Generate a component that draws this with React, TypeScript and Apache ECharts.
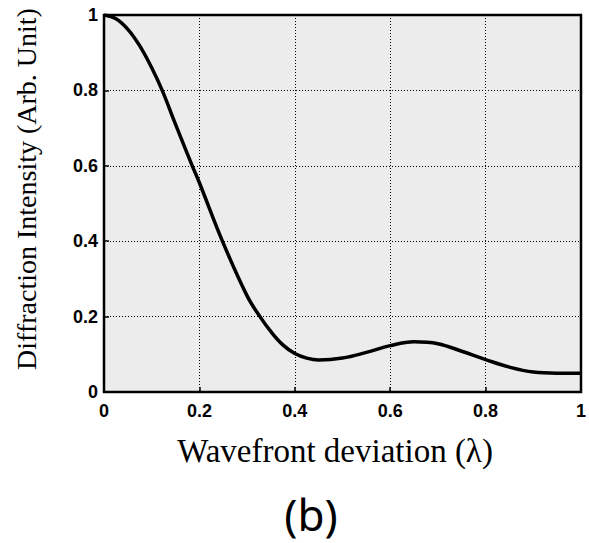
import React, { useEffect, useRef } from "react";
import * as echarts from "echarts";

const xValues = [0, 0.025, 0.05, 0.075, 0.1, 0.122, 0.15, 0.185, 0.2, 0.25, 0.3, 0.327, 0.35, 0.375, 0.4, 0.425, 0.45, 0.5, 0.55, 0.6, 0.65, 0.7, 0.75, 0.8, 0.85, 0.9, 0.95, 1.0];
const intensity = [1.0, 0.99, 0.962, 0.918, 0.86, 0.8, 0.71, 0.6, 0.555, 0.395, 0.255, 0.2, 0.16, 0.125, 0.102, 0.09, 0.085, 0.09, 0.105, 0.123, 0.133, 0.128, 0.108, 0.086, 0.066, 0.053, 0.05, 0.05];
const xTicks = [0, 0.2, 0.4, 0.6, 0.8, 1];
const yTicks = [0, 0.2, 0.4, 0.6, 0.8, 1];
const xTitle = "Wavefront deviation (\u03bb)";
const yTitle = "Diffraction Intensity (Arb. Unit)";
const panelLabel = "(b)";

const fmt = (v: number) => (v === 0 ? "0" : v === 1 ? "1" : String(Math.round(v * 10) / 10));

export default function App() {
  const ref = useRef<HTMLDivElement>(null);
  useEffect(() => {
    if (!ref.current) return;
    const chart = echarts.init(ref.current, null, { renderer: "svg" });
    const data = xValues.map((x, i) => [x, intensity[i]]);
    chart.setOption({
      animation: false,
      backgroundColor: "#ffffff",
      grid: {
        left: 104,
        top: 15,
        right: 4,
        bottom: 151,
        show: true,
        backgroundColor: "#ececec",
        borderColor: "#000",
        borderWidth: 2.5,
      },
      xAxis: {
        type: "value",
        min: 0,
        max: 1,
        interval: 0.2,
        axisLine: { show: false },
        axisTick: { show: true, inside: true, length: 5, lineStyle: { color: "#000", width: 1.5 } },
        splitLine: { show: true, lineStyle: { color: "#000", type: [1, 2], width: 1 } },
        axisLabel: {
          formatter: (v: number) => (xTicks.includes(Math.round(v * 10) / 10) ? fmt(v) : ""),
          color: "#000",
          fontFamily: "Liberation Sans, Arial, sans-serif",
          fontWeight: "bold",
          fontSize: 18,
          margin: 10,
        },
      },
      yAxis: {
        type: "value",
        min: 0,
        max: 1,
        interval: 0.2,
        axisLine: { show: false },
        axisTick: { show: true, inside: true, length: 5, lineStyle: { color: "#000", width: 1.5 } },
        splitLine: { show: true, lineStyle: { color: "#000", type: [1, 2], width: 1 } },
        axisLabel: {
          formatter: (v: number) => (yTicks.includes(Math.round(v * 10) / 10) ? fmt(v) : ""),
          color: "#000",
          fontFamily: "Liberation Sans, Arial, sans-serif",
          fontWeight: "bold",
          fontSize: 18,
          margin: 6,
        },
      },
      series: [
        {
          type: "line",
          data,
          smooth: 0.4,
          showSymbol: false,
          lineStyle: { color: "#000", width: 3.5 },
        },
      ],
      graphic: [
        {
          type: "text",
          x: 26,
          y: 189,
          rotation: Math.PI / 2,
          style: {
            text: yTitle,
            fill: "#000",
            font: "28px 'Liberation Serif', 'Times New Roman', serif",
            align: "center",
            verticalAlign: "middle",
          },
        },
        {
          type: "text",
          x: 335,
          y: 451,
          style: {
            text: xTitle,
            fill: "#000",
            font: "33px 'Liberation Serif', 'Times New Roman', serif",
            align: "center",
            verticalAlign: "middle",
          },
        },
        {
          type: "text",
          x: 311,
          y: 514,
          style: {
            text: panelLabel,
            fill: "#000",
            font: "44px 'Noto Sans', 'DejaVu Sans', sans-serif",
            align: "center",
            verticalAlign: "middle",
          },
        },
      ],
    });
    return () => chart.dispose();
  }, []);
  return <div ref={ref} style={{ position: "fixed", left: 0, top: 0, width: 589, height: 543 }} />;
}
